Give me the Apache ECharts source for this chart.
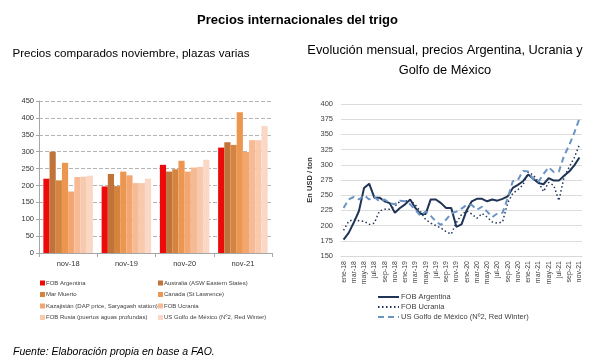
<!DOCTYPE html>
<html>
<head>
<meta charset="utf-8">
<script src="https://cdn.jsdelivr.net/npm/echarts@6/dist/echarts.min.js"></script>
<style>
html,body{margin:0;padding:0;background:#fff;}
#c{width:595px;height:361px;}
</style>
</head>
<body>
<div id="c"></div>
<script>
// ---- Bar chart data (noviembre, plazas varias) ----
const barCategories = ['nov-18', 'nov-19', 'nov-20', 'nov-21'];
const barSeriesNames = [
  'FOB Argentina',
  'Australia (ASW Eastern States)',
  'Mar Muerto',
  'Canada (St Lawrence)',
  'Kazajistán (DAP price, Saryagash station)',
  'FOB Ucrania',
  'FOB Rusia (puertos aguas profundas)',
  'US Golfo de México (Nº2, Red Winter)'
];
const fobArgentinaBar = [220, 197, 261, 312];
const australia = [300, 234, 241, 328];
const marMuerto = [215, 198, 248, 320];
const canada = [267, 241, 273, 417];
const kazajistan = [182, 230, 241, 299];
const fobUcraniaBar = [225, 207, 253, 334];
const fobRusia = [226, 207, 255, 334];
const usGolfoBar = [229, 220, 276, 376];
const barValues = [fobArgentinaBar, australia, marMuerto, canada, kazajistan, fobUcraniaBar, fobRusia, usGolfoBar];
const barTicks = [0, 50, 100, 150, 200, 250, 300, 350, 400, 450];

// ---- Line chart data (evolución mensual) ----
const months = ['ene','feb','mar','abr','may','jun','jul','ago','sep','oct','nov','dic'];
const years = ['18','19','20','21'];
const lineCategories = [];
years.forEach(y => months.forEach(m => lineCategories.push(m + '-' + y)));
lineCategories.splice(47); // ene-18 .. nov-21
// zero-width space keeps the line legend distinct from the bar legend entries
const lineNames = ['FOB Argentina\u200b', 'FOB Ucrania\u200b', 'US Golfo de México (Nº2, Red Winter)\u200b'];
const argentinaLine = [177,188,205,224,262,269,246,246,240,237,221,229,235,243,229,219,219,243,243,237,229,229,198,202,225,240,244,244,240,243,241,244,248,262,267,273,284,277,270,268,278,274,274,282,289,299,312];
const ucraniaLine = [192,207,210,208,207,202,204,224,227,227,232,240,240,242,234,223,210,204,200,196,190,186,205,218,224,219,212,220,214,206,204,206,237,253,259,267,288,283,272,256,271,266,241,280,296,312,333];
const usGolfoLine = [229,243,247,243,250,243,247,240,243,237,235,241,240,235,226,216,223,216,207,201,210,220,223,228,234,234,226,231,223,214,220,221,245,273,275,290,289,276,272,285,296,288,289,315,332,353,376];
const lineTicks = [150, 175, 200, 225, 250, 275, 300, 325, 350, 375, 400];

const barColors = ['#EC0A0A', '#C0743A', '#D5843F', '#EC964F', '#F3A670', '#F6BA95', '#F8C9AC', '#FAD8C5'];
const FONT = 'Liberation Sans, Arial, sans-serif';

const chart = echarts.init(document.getElementById('c'), null, {renderer: 'canvas'});

const barSeries = barSeriesNames.map((n, i) => ({
  name: n,
  type: 'bar',
  xAxisIndex: 0,
  yAxisIndex: 0,
  data: barValues[i],
  barGap: '0%',
  barCategoryGap: '15%',
  itemStyle: {color: barColors[i]},
  emphasis: {disabled: true}
}));

const lineSeries = [
  {name: lineNames[0], type: 'line', xAxisIndex: 1, yAxisIndex: 1, data: argentinaLine,
   symbol: 'none', lineStyle: {color: '#1F3456', width: 2, type: 'solid'}, itemStyle: {color: '#1F3456'}},
  {name: lineNames[1], type: 'line', xAxisIndex: 1, yAxisIndex: 1, data: ucraniaLine,
   symbol: 'none', lineStyle: {color: '#1F3456', width: 1.5, type: [1.5, 2.5]}, itemStyle: {color: '#1F3456'}},
  {name: lineNames[2], type: 'line', xAxisIndex: 1, yAxisIndex: 1, data: usGolfoLine,
   symbol: 'none', lineStyle: {color: '#6B93C4', width: 2, type: [6, 4]}, itemStyle: {color: '#6B93C4'}}
];

const option = {
  animation: false,
  backgroundColor: '#ffffff',
  textStyle: {fontFamily: FONT},
  title: [
    {text: 'Precios internacionales del trigo', left: 'center', top: 9,
     textStyle: {fontSize: 13, fontWeight: 'bold', color: '#000', fontFamily: FONT}},
    {text: 'Precios comparados noviembre, plazas varias', left: 126, textAlign: 'center', top: 43,
     textStyle: {fontSize: 11.6, fontWeight: 'normal', color: '#000', fontFamily: FONT}},
    {text: 'Evolución mensual, precios Argentina, Ucrania y\nGolfo de México', left: 440, textAlign: 'center', top: 36,
     textStyle: {fontSize: 12.8, fontWeight: 'normal', color: '#000', fontFamily: FONT, lineHeight: 19.5, align: 'center'}},
    {text: 'Fuente: Elaboración propia en base a FAO.', left: 8, top: 342,
     textStyle: {fontSize: 10.5, fontWeight: 'normal', fontStyle: 'italic', color: '#000', fontFamily: FONT}}
  ],
  legend: [
    {data: [barSeriesNames[0], barSeriesNames[2], barSeriesNames[4], barSeriesNames[6]],
     orient: 'vertical', left: 35, top: 275, itemWidth: 5, itemHeight: 5, itemGap: 5.5,
     icon: 'rect', textStyle: {fontSize: 6, color: '#404040', padding: [0, 0, 0, -4]}, selectedMode: false},
    {data: [barSeriesNames[1], barSeriesNames[3], barSeriesNames[5], barSeriesNames[7]],
     orient: 'vertical', left: 153, top: 275, itemWidth: 5, itemHeight: 5, itemGap: 5.5,
     icon: 'rect', textStyle: {fontSize: 6, color: '#404040', padding: [0, 0, 0, -4]}, selectedMode: false},
    {data: lineNames, orient: 'vertical', left: 372, top: 288, itemWidth: 21, itemHeight: 6, itemGap: 2,
     itemStyle: {opacity: 0},
     textStyle: {fontSize: 7.5, color: '#404040', padding: [0, 0, 0, -3]}, selectedMode: false}
  ],
  grid: [
    {left: 39, top: 101, width: 233, height: 152, containLabel: false},
    {left: 341, top: 104, width: 241, height: 152, containLabel: false}
  ],
  xAxis: [
    {type: 'category', gridIndex: 0, data: barCategories,
     axisLine: {lineStyle: {color: '#A6A6A6'}},
     axisTick: {show: true, alignWithLabel: false, length: 4, lineStyle: {color: '#A6A6A6'}},
     axisLabel: {fontSize: 7.5, color: '#333', margin: 7}},
    {type: 'category', gridIndex: 1, data: lineCategories, boundaryGap: true,
     axisLine: {lineStyle: {color: '#D9D9D9'}},
     axisTick: {show: false},
     axisLabel: {fontSize: 7, color: '#404040', rotate: 90, interval: 1, margin: 5}}
  ],
  yAxis: [
    {type: 'value', gridIndex: 0, min: barTicks[0], max: barTicks[barTicks.length - 1], interval: 50,
     axisLine: {show: true, lineStyle: {color: '#A6A6A6'}},
     axisTick: {show: true, length: 3, lineStyle: {color: '#A6A6A6'}},
     axisLabel: {fontSize: 7.5, color: '#333', margin: 5},
     splitLine: {lineStyle: {color: '#B4B4B4', type: [4, 2]}}},
    {type: 'value', gridIndex: 1, min: lineTicks[0], max: lineTicks[lineTicks.length - 1], interval: 25,
     name: 'En USD / ton', nameLocation: 'middle', nameRotate: 90, nameGap: 27,
     nameTextStyle: {fontSize: 7.5, color: '#333', fontWeight: 'bold'},
     axisLine: {show: false}, axisTick: {show: false},
     axisLabel: {fontSize: 7.5, color: '#404040', margin: 8},
     splitLine: {lineStyle: {color: '#DCDCDC', type: 'solid'}}}
  ],
  series: barSeries.concat(lineSeries)
};
chart.setOption(option);
</script>
</body>
</html>
